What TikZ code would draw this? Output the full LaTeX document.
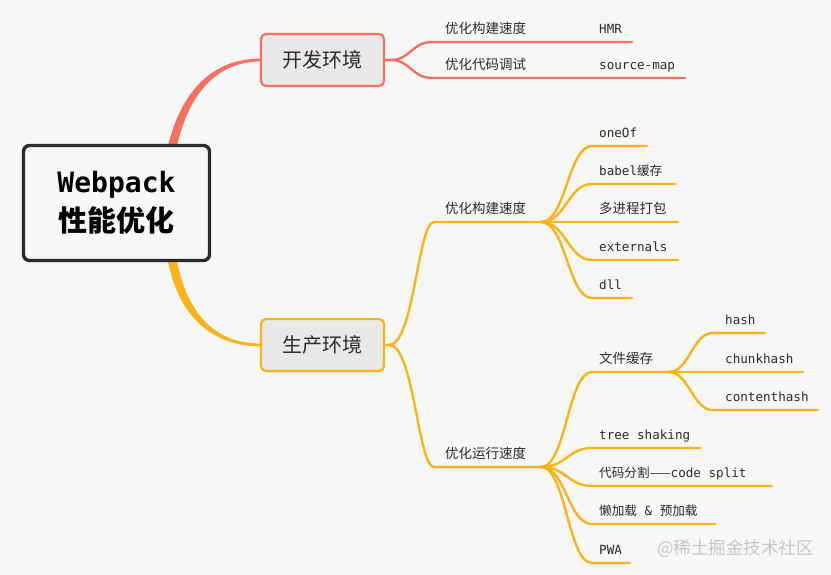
\documentclass[tikz,border=0pt]{standalone}
\usepackage{fontspec}
\setmainfont{DejaVu Sans Mono}
\newfontfamily\cjk{Noto Sans CJK SC}
\newfontfamily\mono{DejaVu Sans Mono}
\usetikzlibrary{backgrounds}
\definecolor{rc}{HTML}{F4715E}
\definecolor{yc}{HTML}{FBB318}
\definecolor{bgc}{HTML}{F7F7F7}
\definecolor{boxfill}{HTML}{E8E8E8}
\definecolor{dk}{HTML}{2B2B2B}
\definecolor{wm}{HTML}{C6C6C6}
\begin{document}
\begin{tikzpicture}[x=1pt,y=-1pt,
  rline/.style={draw=rc,line width=2.4pt,line cap=round},
  yline/.style={draw=yc,line width=2.4pt,line cap=round},
  lab/.style={anchor=base west,inner sep=0pt,text=dk,font=\mono\fontsize{12.6}{14}\selectfont},
  clab/.style={lab,font=\cjk\fontsize{13.5}{15}\selectfont},
  topic/.style={rounded corners=5pt,fill=boxfill,line width=2.2pt,minimum width=123pt,minimum height=52pt,inner sep=0pt,font=\cjk\fontsize{20}{24}\selectfont,text=dk},
]
\useasboundingbox (0,0) rectangle (831,575);

% root and topics
\node[draw=dk,line width=3.4pt,rounded corners=6pt,fill=bgc,minimum width=186pt,minimum height=115pt,inner sep=0pt] (root) at (116.5,203) {};
\node[anchor=base,inner sep=0pt,text=black,font=\mono\bfseries\fontsize{28}{30}\selectfont] (rootA) at (116.5,193) {Webpack};
\node[anchor=base,inner sep=0pt,text=black,font=\cjk\bfseries\fontsize{29}{32}\selectfont] (rootB) at (116.5,232) {性能优化};
\node[topic,draw=rc] (dev) at (322.5,60) {开发环境};
\node[topic,draw=yc] (prod) at (322.5,345) {生产环境};

% background and tapered root connectors
\begin{scope}[on background layer]
\fill[bgc] (0,0) rectangle (831,575);
\coordinate (rt) at (171.5,150);
\coordinate (rb) at (171.5,256);
\fill[rc] (167,150) .. controls (180,92) and (212,58.3) .. (261,58.6) -- (261,61.4) .. controls (216,61.7) and (188,94) .. (176,150) -- cycle;
\fill[yc] (167,256) .. controls (178,320) and (215,346.4) .. (261,346.4) -- (261,343.6) .. controls (218,343.6) and (187,318) .. (176,256) -- cycle;
\end{scope}

% ---- dev branch
\coordinate (d1) at (632,42);
\coordinate (d2) at (685,78);
\draw[rline] (dev.east) -- ++(6,0) .. controls (410,60) and (412,42) .. (432,42) -- (d1);
\draw[rline] (dev.east) -- ++(6,0) .. controls (410,60) and (412,78) .. (432,78) -- (d2);
\node[clab] (dl1) at (445,33.5) {优化构建速度};
\node[lab] (dl1a) at (599,33.5) {HMR};
\node[clab] (dl2) at (445,69.5) {优化代码调试};
\node[lab] (dl2a) at (599,69.5) {source-map};

% ---- prod branch
\coordinate (pA) at (541,222);
\coordinate (pB) at (541,467);
\draw[yline] (prod.east) -- ++(4,0) .. controls (414,345) and (418,222) .. (434,222) -- (pA);
\draw[yline] (prod.east) -- ++(4,0) .. controls (414,345) and (418,467) .. (434,467) -- (pB);
\node[clab] (pl1) at (445,213.5) {优化构建速度};
\node[clab] (pl2) at (445,458.5) {优化运行速度};

% children of A
\foreach \y/\e in {146/647,184/675,260/678,298/632}{
  \draw[yline] (pA) .. controls (566,222) and (568,\y) .. (592,\y) -- (\e,\y);
}
\draw[yline] (pA) -- (678,222);
\node[lab] (a1) at (599,137.5) {oneOf};
\node[lab] (a2) at (599,175.5) {babel{\cjk 缓存}};
\node[clab] (a3) at (599,213.5) {多进程打包};
\node[lab] (a4) at (599,251.5) {externals};
\node[lab] (a5) at (599,289.5) {dll};

% children of B
\coordinate (fB) at (668,372);
\draw[yline] (pB) .. controls (566,467) and (568,372) .. (592,372) -- (fB);
\foreach \y/\e in {448/700,486/772,524/715,563/630}{
  \draw[yline] (pB) .. controls (566,467) and (568,\y) .. (592,\y) -- (\e,\y);
}
\node[clab] (b1) at (599,363.5) {文件缓存};
\node[lab] (b2) at (599,439.5) {tree shaking};
\node[lab] (b3) at (599,477.5) {{\cjk 代码分割——}code split};
\node[lab] (b4) at (599,515.5) {{\cjk 懒加载} \& {\cjk 预加载}};
\node[lab] (b5) at (599,554.5) {PWA};

% file cache children
\foreach \y/\e in {333/765,410/818}{
  \draw[yline] (fB) .. controls (690,372) and (692,\y) .. (713,\y) -- (\e,\y);
}
\draw[yline] (fB) -- (803,372);
\node[lab] (c1) at (725,324.5) {hash};
\node[lab] (c2) at (725,363.5) {chunkhash};
\node[lab] (c3) at (725,401.5) {contenthash};

% watermark
\node[anchor=base west,inner sep=0pt,text=wm,font=\cjk\fontsize{17.5}{20}\selectfont] (wmk) at (657,554) {@稀土掘金技术社区};
\end{tikzpicture}
\end{document}
